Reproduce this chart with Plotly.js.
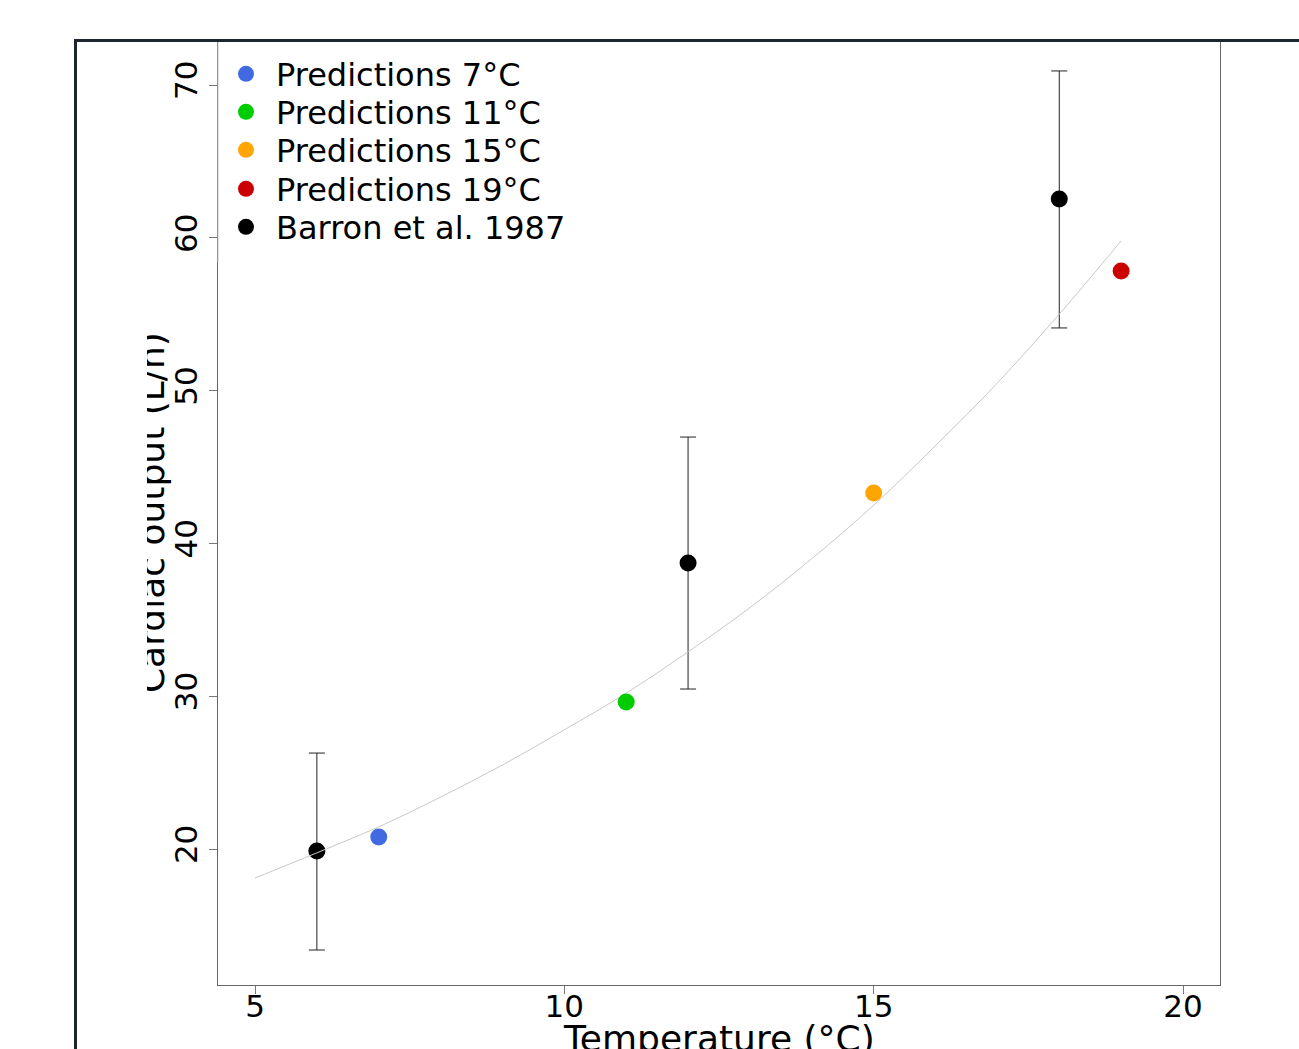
<!DOCTYPE html>
<html><head><meta charset="utf-8">
<script src="https://cdn.plot.ly/plotly-3.0.1.min.js"></script>
<style>
html,body{margin:0;padding:0;background:#fff;width:1299px;height:1049px;overflow:hidden;}
#frame{position:absolute;left:74px;top:39px;width:1300px;height:1100px;border-left:3px solid #1b2631;border-top:3px solid #1b2631;pointer-events:none;z-index:2;box-sizing:border-box;}
#plot{position:absolute;left:147px;top:0;width:1152px;height:1049px;z-index:1;}
</style></head><body>
<div id="plot"></div><div id="frame"></div>
<script>
// fitted curve
const curveTemp   = [5, 6, 7, 8, 9, 10, 11, 12, 13, 14, 15, 16, 17, 18, 19];
const curveOutput = [18.1, 19.75, 21.45, 23.4, 25.5, 27.8, 30.2, 32.9, 35.8, 39.0, 42.5, 46.4, 50.5, 55.0, 59.8];
// Barron et al. 1987 observations
const barronTemp   = [6, 12, 18];
const barronOutput = [19.87, 38.72, 62.54];
const barronUpper  = [6.41, 8.24, 8.38];
const barronLower  = [6.48, 8.25, 8.44];
const barronLabel  = 'Barron et al. 1987';
// model predictions
const predTemp   = [7, 11, 15, 19];
const predOutput = [20.79, 29.62, 43.30, 57.83];
const predLabels = ['Predictions 7°C', 'Predictions 11°C', 'Predictions 15°C', 'Predictions 19°C'];
const predColors = ['#4169E1', '#00CD00', '#FFA500', '#CD0000'];
// axes
const xTicks = [5, 10, 15, 20];
const yTicks = [20, 30, 40, 50, 60, 70];
const xTitle = 'Temperature (°C)';
const yTitle = 'Cardiac output (L/h)';

const FONT = 'DejaVu Sans, sans-serif';
const legendY = [0.9640, 0.9238, 0.8836, 0.8423, 0.8021];

const traces = [];
traces.push({
  x: barronTemp, y: barronOutput, type: 'scatter', mode: 'markers',
  marker: {size: 1, color: 'rgba(0,0,0,0)'}, showlegend: false, hoverinfo: 'skip',
  error_y: {type: 'data', symmetric: false, array: barronUpper, arrayminus: barronLower,
            color: '#222', thickness: 1, width: 8}
});
traces.push({
  x: barronTemp, y: barronOutput, type: 'scatter', mode: 'markers', name: barronLabel,
  marker: {size: 17, color: '#000'}, legend: 'legend5'
});
traces.push({
  x: curveTemp, y: curveOutput, type: 'scatter', mode: 'lines', showlegend: false,
  line: {color: '#c8c8c8', width: 1, shape: 'spline'}, hoverinfo: 'skip'
});
predTemp.forEach((t, i) => {
  traces.push({
    x: [t], y: [predOutput[i]], type: 'scatter', mode: 'markers', name: predLabels[i],
    marker: {size: 17, color: predColors[i]}, legend: i === 0 ? 'legend' : 'legend' + (i + 1)
  });
});

const layout = {
  width: 1152, height: 1049,
  margin: {l: 71, r: 79, t: 40, b: 64, pad: 0},
  paper_bgcolor: 'rgba(0,0,0,0)', plot_bgcolor: 'rgba(0,0,0,0)',
  font: {family: FONT, color: '#000', size: 31},
  hovermode: false,
  xaxis: {
    range: [4.402, 20.598], tickvals: xTicks, ticktext: xTicks.map(String),
    ticks: 'outside', ticklen: 8, tickcolor: '#777', tickwidth: 1, ticklabelstandoff: -14,
    showline: true, linecolor: '#666', linewidth: 1, mirror: true,
    showgrid: false, zeroline: false,
    tickfont: {family: FONT, size: 31, color: '#000'}
  },
  yaxis: {
    range: [11.10, 72.945], tickvals: yTicks, ticktext: yTicks.map(String),
    ticks: 'outside', ticklen: 8, tickcolor: '#777', tickwidth: 1, tickangle: -90,
    showline: true, linecolor: '#666', linewidth: 1, mirror: true,
    showgrid: false, zeroline: false,
    tickfont: {family: FONT, size: 31, color: '#000'}
  },
  annotations: [
    {text: xTitle, xref: 'paper', yref: 'paper', x: 0.5, y: -0.0328, xanchor: 'center', yanchor: 'top',
     showarrow: false, font: {family: FONT, size: 36, color: '#000'}},
    {text: yTitle, xref: 'paper', yref: 'paper', x: -0.0439, y: 0.5, xanchor: 'right', yanchor: 'middle',
     textangle: -90, showarrow: false, font: {family: FONT, size: 36, color: '#000'}}
  ],
  shapes: [{type: 'line', xref: 'paper', yref: 'paper', x0: 0, x1: 0, y0: 0.764, y1: 1,
            line: {color: '#c4c4c4', width: 1}, layer: 'above'}]
};
const legNames = ['legend', 'legend2', 'legend3', 'legend4', 'legend5'];
legNames.forEach((n, i) => {
  layout[n] = {x: -0.002, xanchor: 'left', y: legendY[i], yanchor: 'middle',
    bgcolor: 'rgba(0,0,0,0)', borderwidth: 0, itemwidth: 50,
    font: {family: FONT, size: 32, color: '#000'}};
});

Plotly.newPlot('plot', traces, layout, {displayModeBar: false, staticPlot: true});
</script>
</body></html>
